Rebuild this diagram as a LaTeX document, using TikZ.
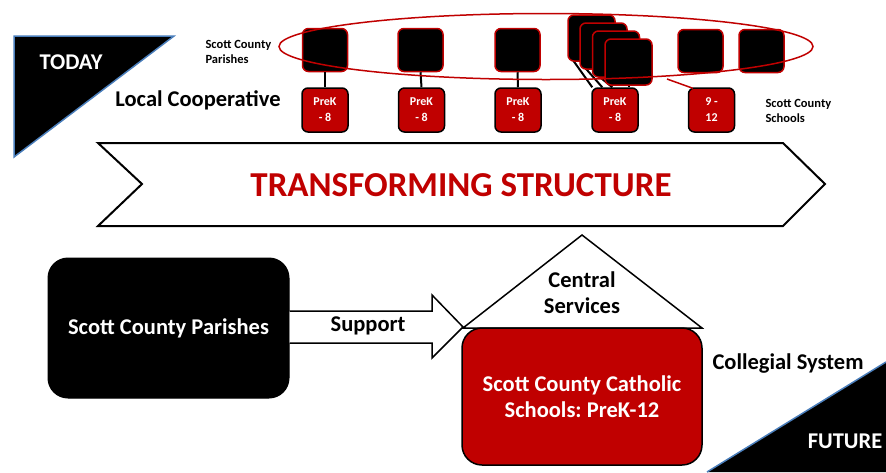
\documentclass[tikz,border=0pt]{standalone}
\usepackage{fontspec}
\setmainfont{Carlito}
\usetikzlibrary{shapes.geometric,calc,backgrounds}
\definecolor{cred}{HTML}{C00000}
\definecolor{tblue}{HTML}{4A7EBB}
\frenchspacing
\tikzset{
 big/.style={font=\fontsize{22.5}{26}\selectfont\bfseries, align=center},
 small/.style={font=\fontsize{12.5}{15}\selectfont\bfseries, align=left},
 parish/.style={draw=cred, line width=1.5pt, fill=black, rounded corners=6pt, minimum width=45pt, minimum height=43pt, inner sep=0pt},
 stackbox/.style={parish, minimum width=47pt, minimum height=46pt},
 school/.style={draw=black, line width=1.5pt, fill=cred, rounded corners=6pt, minimum width=46pt, minimum height=44pt, inner sep=0pt, text=white, align=center, font=\fontsize{12}{16}\selectfont\bfseries},
 link/.style={draw=black, line width=2pt},
 outline/.style={draw=black, line width=2pt},
 corner/.style={fill=black, draw=tblue, line width=1.5pt},
}
\begin{document}
\begin{tikzpicture}[x=1pt,y=-1pt]
\useasboundingbox (0,0) rectangle (886,472);
% TODAY corner
\filldraw[corner] (14,36) -- (174,36) -- (14,157) -- cycle;
\node[big, text=white] (today) at (71,62) {TODAY};
% FUTURE corner
\fill[black] (886,362) -- (886,472) -- (707,472) -- cycle;
\draw[tblue, line width=1.5pt] (886,362) -- (707,472);
\node[big, text=white] (future) at (845,441) {FUTURE};
% labels
\node[small, anchor=west] (lblpar) at (202,52) {Scott County\\Parishes};
\node[big] (lc) at (198,100) {Local Cooperative};
\node[small, anchor=west] (lblsch) at (762,111) {Scott County\\Schools};
% parishes
\node[parish] (p1) at (325,50) {};
\node[parish] (p2) at (420.5,50) {};
\node[parish] (p3) at (517.5,50) {};
\node[stackbox] (s1) at (591.5,38) {};
\node[stackbox] (s2) at (603.5,46) {};
\node[stackbox] (s3) at (616,54) {};
\node[stackbox] (s4) at (628.5,62) {};
\node[parish] (p5) at (700.5,51) {};
\node[parish] (p6) at (761.5,51) {};
% schools
\node[school] (k1) at (325,110) {PreK\\- 8};
\node[school] (k2) at (421.5,110) {PreK\\- 8};
\node[school] (k3) at (518,110) {PreK\\- 8};
\node[school] (k4) at (615,110) {PreK\\- 8};
\node[school] (k5) at (711.5,110) {9 -\\12};
% connectors
\draw[link] (p1.south) -- (k1.north);
\draw[link] (p2.south) -- (k2.north);
\draw[link] (p3.south) -- (k3.north);
\begin{scope}[on background layer]
\draw[link] ($(s1.south west)+(4,-4)$) -- ($(k4.north west)+(1,0)$);
\draw[link] ($(s2.south west)+(4,-4)$) -- ($(k4.north west)+(11,0)$);
\draw[link] ($(s3.south west)+(4,-4)$) -- ($(k4.north west)+(21,0)$);
\draw[link] (s4.south) -- (s4.south |- k4.north);
\end{scope}
% ellipse
\node[ellipse, draw=cred, line width=1.5pt, minimum width=534pt, minimum height=66pt, inner sep=0pt] (ell) at (546,46.5) {};
\coordinate (e1) at (667,79);
\draw[cred, line width=1.5pt] (e1) -- ($(k5.north west)+(5,1)$);
% chevron
\draw[outline, fill=white] (98,143) -- (783,143) -- (825,184) -- (783,226) -- (98,226) -- (142,184) -- cycle;
\node[font=\fontsize{35}{40}\selectfont\bfseries, text=cred] (ts) at (461,185) {TRANSFORMING STRUCTURE};
% bottom part
\node[draw=black, line width=1pt, fill=black, rounded corners=20pt, minimum width=241pt, minimum height=140pt, text=white, big] (scp) at (168.5,328) {Scott County Parishes};
\draw[outline, line width=1.5pt, fill=white] (scp.east |- 0,311) -- (432,311) -- (432,295) -- (463,327) -- (432,358) -- (432,343) -- (scp.east |- 0,343);
\node[big] (sup) at (368,326) {Support};
\draw[outline, line width=1.5pt, fill=white] (582,235) -- (702,328) -- (463,328) -- cycle;
\node[big] (cs) at (582,293) {Central\\Services};
\node[draw=black, line width=1.5pt, fill=cred, rounded corners=20pt, minimum width=240pt, minimum height=137pt, text=white, big] (sccs) at (582,396.5) {Scott County Catholic\\Schools: PreK-12};
\node[big] (coll) at (788,364) {Collegial System};
\end{tikzpicture}
\end{document}
